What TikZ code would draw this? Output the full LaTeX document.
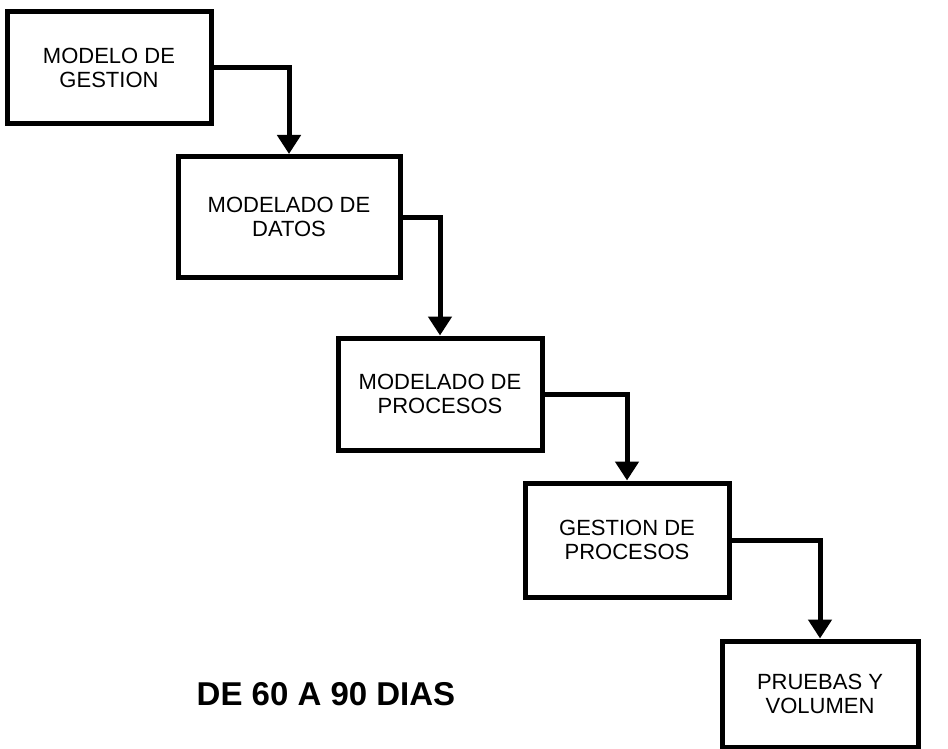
\documentclass[tikz,border=0pt]{standalone}
\usepackage{fontspec}
\setmainfont{Liberation Sans}
\usetikzlibrary{arrows.meta}
\tikzset{
  etapa/.style={draw=black,line width=5pt,fill=white,align=center,
                font=\fontsize{22}{24}\selectfont},
  flecha/.style={line width=5pt,-{Triangle[width=23pt,length=19pt]}}
}
\begin{document}
\begin{tikzpicture}[x=1pt,y=-1pt]
  \useasboundingbox (0,0) rectangle (948,749);
  \foreach \n/\x/\y/\w/\h/\t in {
      e1/109/68/204/112/{MODELO DE\\GESTION},
      e2/289/217/222/121/{MODELADO DE\\DATOS},
      e3/440/394/204/112/{MODELADO DE\\PROCESOS},
      e4/627/540/204/114/{GESTION DE\\PROCESOS},
      e5/820/694/196/106/{PRUEBAS Y\\VOLUMEN}}{
    \node[etapa,minimum width=\w pt,minimum height=\h pt] (\n) at (\x,\y) {\t};
  }
  \foreach \a/\b in {e1/e2,e2/e3,e3/e4,e4/e5}
    \draw[flecha] (\a.east) -| (\b.north);
  \node[font=\fontsize{33}{36}\selectfont\bfseries] (plazo) at (326,694) {DE 60 A 90 DIAS};
\end{tikzpicture}
\end{document}
